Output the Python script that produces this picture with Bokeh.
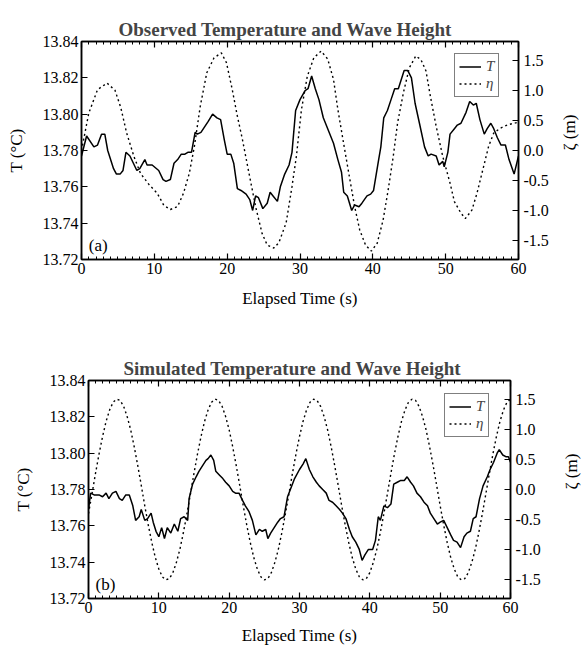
import math
from bokeh.plotting import figure
from bokeh.layouts import column, row
from bokeh.models import (Range1d, LinearAxis, FixedTicker, PrintfTickFormatter, CustomJSTickFormatter,
                          Legend, LegendItem, Label, Spacer)
from bokeh.embed import file_html
from bokeh.resources import INLINE

# ---------------- data ----------------
obs_T_time = [0.0, 0.7, 1.7, 2.2, 2.75, 3.2, 3.6, 4.4, 4.8, 5.3, 5.7, 6.1, 6.65, 7.6, 8.0, 8.7, 9.0, 9.7,
              10.6, 11.2, 11.6, 12.2, 12.7, 13.2, 13.7, 14.2, 14.6, 15.1, 15.6, 15.9, 16.4, 16.9, 17.4,
              18.0, 18.6, 19.1, 19.6, 20.0, 20.5, 20.9, 21.4, 21.9, 22.6, 23.1, 23.5, 23.9, 24.3, 24.9,
              25.5, 25.9, 26.3, 26.9, 27.3, 27.9, 28.5, 28.9, 29.4, 30.0, 30.7, 31.1, 31.6, 32.1, 32.6,
              33.2, 33.9, 34.6, 35.2, 35.7, 36.0, 36.5, 37.1, 37.5, 38.1, 38.5, 39.2, 39.7, 40.1, 40.8,
              41.1, 41.5, 42.0, 42.5, 43.0, 43.5, 44.3, 44.8, 45.3, 45.8, 46.4, 47.1, 47.6, 48.0, 48.7,
              49.1, 49.6, 49.8, 50.3, 50.6, 51.2, 51.6, 52.1, 52.8, 53.3, 53.8, 54.2, 54.7, 55.3, 55.7,
              56.2, 56.6, 57.1, 57.6, 58.2, 58.7, 59.4, 60.0]
obs_T = [13.777, 13.788, 13.782, 13.783, 13.789, 13.789, 13.780, 13.770, 13.767, 13.767, 13.769, 13.779,
         13.777, 13.769, 13.770, 13.775, 13.772, 13.772, 13.769, 13.764, 13.763, 13.764, 13.773, 13.775,
         13.778, 13.778, 13.779, 13.779, 13.790, 13.789, 13.790, 13.793, 13.796, 13.800, 13.798, 13.797,
         13.786, 13.778, 13.778, 13.773, 13.759, 13.758, 13.756, 13.753, 13.747, 13.755, 13.754, 13.748,
         13.751, 13.757, 13.755, 13.752, 13.760, 13.767, 13.772, 13.779, 13.802, 13.808, 13.813, 13.814,
         13.821, 13.814, 13.808, 13.798, 13.791, 13.784, 13.775, 13.768, 13.757, 13.755, 13.747, 13.750,
         13.749, 13.751, 13.755, 13.756, 13.758, 13.775, 13.782, 13.798, 13.802, 13.808, 13.814, 13.814,
         13.824, 13.824, 13.820, 13.806, 13.795, 13.782, 13.777, 13.778, 13.777, 13.772, 13.774, 13.771,
         13.779, 13.789, 13.792, 13.794, 13.795, 13.801, 13.807, 13.805, 13.806, 13.797, 13.789, 13.792,
         13.795, 13.792, 13.787, 13.783, 13.783, 13.775, 13.767, 13.777]

obs_eta_time = [0.0, 1.0, 2.2, 3.5, 4.6, 5.4, 6.2, 7.2, 8.1, 9.3, 10.4, 11.3, 12.2, 13.2, 14.0, 14.8, 15.5,
                16.3, 17.2, 18.2, 19.2, 19.9, 20.7, 21.4, 22.1, 23.0, 23.9, 24.8, 25.5, 26.4, 27.1, 28.1,
                28.9, 29.5, 30.2, 31.0, 31.9, 32.9, 33.8, 34.6, 35.2, 35.9, 36.7, 37.5, 38.2, 39.0, 39.8,
                40.6, 41.4, 42.1, 42.8, 43.4, 44.2, 45.0, 45.9, 46.6, 47.3, 47.9, 48.7, 49.6, 50.6, 51.2,
                52.1, 52.7, 53.6, 54.3, 55.1, 55.9, 56.6, 57.5, 58.6, 60.0]
obs_eta = [0.00, 0.62, 1.01, 1.12, 1.00, 0.71, 0.29, -0.10, -0.38, -0.57, -0.71, -0.91, -0.98, -0.93,
           -0.71, -0.38, 0.07, 0.73, 1.29, 1.54, 1.62, 1.46, 1.01, 0.57, 0.18, -0.38, -0.93, -1.38, -1.57,
           -1.62, -1.53, -1.20, -0.60, -0.10, 0.68, 1.23, 1.54, 1.65, 1.52, 1.18, 0.68, 0.18, -0.38, -0.93,
           -1.32, -1.57, -1.67, -1.54, -1.16, -0.66, -0.10, 0.46, 0.96, 1.37, 1.57, 1.51, 1.32, 0.90, 0.40,
           -0.10, -0.54, -0.85, -1.04, -1.13, -0.99, -0.71, -0.32, 0.07, 0.29, 0.37, 0.43, 0.47]

sim_T_time = [0.0, 0.3, 0.8, 1.5, 2.0, 2.5, 2.9, 3.4, 3.9, 4.4, 4.8, 5.3, 5.8, 6.3, 6.7, 7.2, 7.5, 8.0,
              8.4, 8.9, 9.2, 9.6, 10.0, 10.4, 10.8, 11.2, 11.7, 12.2, 12.7, 13.1, 13.6, 14.1, 14.3, 14.8,
              15.3, 15.7, 16.2, 16.7, 17.0, 17.4, 17.8, 18.1, 18.6, 19.1, 19.5, 20.0, 20.5, 20.9, 21.4,
              21.9, 22.3, 22.8, 23.3, 23.8, 24.3, 24.7, 25.2, 25.5, 25.9, 26.4, 26.9, 27.3, 27.8, 28.3,
              28.7, 29.3, 30.0, 30.5, 30.9, 31.4, 31.9, 32.4, 32.8, 33.3, 33.8, 34.2, 34.7, 35.2, 35.7,
              36.1, 36.6, 37.1, 37.5, 38.0, 38.5, 38.9, 39.3, 39.8, 40.4, 40.8, 41.2, 41.5, 42.0, 42.5,
              43.0, 43.4, 43.9, 44.4, 44.9, 45.3, 45.8, 46.2, 46.7, 47.2, 47.7, 48.2, 48.6, 49.1, 49.6,
              50.0, 50.5, 51.0, 51.5, 51.9, 52.4, 52.9, 53.4, 53.8, 54.3, 54.7, 55.1, 55.6, 56.1, 56.7,
              57.1, 57.6, 58.1, 58.4, 58.9, 59.4, 59.7, 60.0]
sim_T = [13.769, 13.778, 13.777, 13.777, 13.776, 13.778, 13.775, 13.778, 13.779, 13.775, 13.774, 13.777,
         13.777, 13.771, 13.763, 13.765, 13.769, 13.763, 13.764, 13.767, 13.762, 13.757, 13.754, 13.759,
         13.753, 13.759, 13.756, 13.761, 13.757, 13.764, 13.765, 13.763, 13.775, 13.783, 13.787, 13.790,
         13.793, 13.796, 13.797, 13.799, 13.796, 13.790, 13.788, 13.786, 13.784, 13.782, 13.779, 13.778,
         13.778, 13.774, 13.771, 13.768, 13.763, 13.755, 13.758, 13.757, 13.758, 13.753, 13.756, 13.759,
         13.762, 13.764, 13.765, 13.776, 13.780, 13.786, 13.791, 13.794, 13.797, 13.791, 13.787, 13.784,
         13.782, 13.780, 13.778, 13.774, 13.773, 13.771, 13.769, 13.767, 13.764, 13.758, 13.754, 13.751,
         13.747, 13.741, 13.744, 13.747, 13.747, 13.752, 13.765, 13.763, 13.771, 13.770, 13.772, 13.783,
         13.784, 13.785, 13.785, 13.787, 13.784, 13.782, 13.778, 13.776, 13.773, 13.771, 13.767, 13.764,
         13.761, 13.762, 13.763, 13.759, 13.755, 13.752, 13.751, 13.748, 13.754, 13.756, 13.757, 13.764,
         13.765, 13.775, 13.782, 13.787, 13.791, 13.795, 13.800, 13.802, 13.799, 13.798, 13.798, 13.795]

sim_eta_time = [i * 0.5 for i in range(121)]
sim_eta = [-0.40, -0.07, 0.27, 0.59, 0.88, 1.13, 1.32, 1.45, 1.50, 1.48, 1.38, 1.21, 0.99, 0.71,
           0.40, 0.07, -0.27, -0.59, -0.88, -1.13, -1.32, -1.45, -1.50, -1.48, -1.38, -1.21, -0.99, -0.71,
           -0.40, -0.07, 0.27, 0.59, 0.88, 1.13, 1.32, 1.45, 1.50, 1.48, 1.38, 1.21, 0.99, 0.71,
           0.40, 0.07, -0.27, -0.59, -0.88, -1.13, -1.32, -1.45, -1.50, -1.48, -1.38, -1.21, -0.99, -0.71,
           -0.40, -0.07, 0.27, 0.59, 0.88, 1.13, 1.32, 1.45, 1.50, 1.48, 1.38, 1.21, 0.99, 0.71,
           0.40, 0.07, -0.27, -0.59, -0.88, -1.13, -1.32, -1.45, -1.50, -1.48, -1.38, -1.21, -0.99, -0.71,
           -0.40, -0.07, 0.27, 0.59, 0.88, 1.13, 1.32, 1.45, 1.50, 1.48, 1.38, 1.21, 0.99, 0.71,
           0.40, 0.07, -0.27, -0.59, -0.88, -1.13, -1.32, -1.45, -1.50, -1.48, -1.38, -1.21, -0.99, -0.71,
           -0.40, -0.07, 0.27, 0.59, 0.88, 1.13, 1.32, 1.45, 1.50]

x_ticks = [0, 10, 20, 30, 40, 50, 60]
x_minor = list(range(0, 61))
T_ticks = [13.72, 13.74, 13.76, 13.78, 13.80, 13.82, 13.84]
eta_ticks = [-1.5, -1.0, -0.5, 0.0, 0.5, 1.0, 1.5]

titles = ["Observed Temperature and Wave Height", "Simulated Temperature and Wave Height"]
panel_tags = ["(a)", "(b)"]

SERIF = "Liberation Serif"


def style_axis(ax, ticker, fmt, minor=False, labels=True, label=""):
    ax.ticker = ticker
    ax.formatter = fmt
    ax.axis_line_color = "black"
    ax.axis_line_width = 1.5
    ax.major_tick_line_color = "black"
    ax.major_tick_line_width = 1.2
    ax.major_tick_in = 6
    ax.major_tick_out = 0
    if minor:
        ax.minor_tick_line_color = "black"
        ax.minor_tick_line_width = 1
        ax.minor_tick_in = 3
        ax.minor_tick_out = 0
    else:
        ax.minor_tick_line_color = None
    ax.major_label_text_font = SERIF
    ax.major_label_text_color = "black"
    ax.major_label_text_font_size = "16px"
    if not labels:
        ax.major_label_standoff = 0
    if label:
        ax.axis_label = label
    ax.axis_label_text_font = SERIF
    ax.axis_label_text_font_style = "normal"
    ax.axis_label_text_font_size = "17px"
    ax.axis_label_text_color = "black"


def make_panel(idx, T_time, T_vals, eta_time, eta_vals, frame_w, border_l, border_t, border_b,
               eta_label, legend_loc, title_offset, xlabel_standoff, rlabel_standoff):
    p = figure(frame_width=frame_w, frame_height=218,
               x_range=Range1d(0, 60), y_range=Range1d(13.72, 13.84),
               output_backend="svg", toolbar_location=None,
               min_border_left=border_l, min_border_top=border_t,
               min_border_bottom=border_b, min_border_right=4,
               title=titles[idx])
    p.extra_y_ranges = {"eta": Range1d(-1.81, 1.81)}
    p.background_fill_color = "white"
    p.border_fill_color = "white"
    p.outline_line_color = "black"
    p.outline_line_width = 1.5
    p.xgrid.visible = False
    p.ygrid.visible = False

    p.title.text_font = SERIF
    p.title.text_font_style = "bold"
    p.title.text_font_size = "19px"
    p.title.align = "left"
    p.title.offset = title_offset
    p.title.standoff = 4

    xt = FixedTicker(ticks=x_ticks, minor_ticks=x_minor)
    style_axis(p.xaxis[0], xt, PrintfTickFormatter(format="%d"), minor=True,
               label="Elapsed Time (s)")
    p.xaxis[0].major_label_standoff = 3
    p.xaxis[0].axis_label_standoff = xlabel_standoff
    style_axis(p.yaxis[0], FixedTicker(ticks=T_ticks), PrintfTickFormatter(format="%.2f"),
               label="T (°C)")
    p.yaxis[0].major_label_standoff = 3
    p.yaxis[0].axis_label_standoff = 14

    top = LinearAxis()
    style_axis(top, FixedTicker(ticks=x_ticks, minor_ticks=x_minor),
               CustomJSTickFormatter(code="return ''"), minor=True, labels=False)
    p.add_layout(top, "above")

    right = LinearAxis(y_range_name="eta")
    style_axis(right, FixedTicker(ticks=eta_ticks), PrintfTickFormatter(format="%.1f"),
               label=eta_label)
    right.major_label_standoff = 5
    right.axis_label_standoff = rlabel_standoff
    right.axis_label_orientation = math.pi / 2
    p.add_layout(right, "right")

    r1 = p.line(T_time, T_vals, line_color="black", line_width=1.5)
    r2 = p.line(eta_time, eta_vals, line_color="black", line_width=1.4, line_dash="2 3",
                y_range_name="eta")

    leg = Legend(items=[LegendItem(label="T", renderers=[r1]),
                        LegendItem(label="η", renderers=[r2])],
                 location=legend_loc, margin=0, padding=4, spacing=0,
                 glyph_width=22, glyph_height=15, label_height=15, label_width=8,
                 label_standoff=5,
                 label_text_font=SERIF, label_text_font_style="italic",
                 label_text_font_size="15px",
                 border_line_color="black", border_line_width=1.3,
                 background_fill_color="white", background_fill_alpha=1.0)
    p.add_layout(leg)

    p.add_layout(Label(x=1.0, y=13.7225, text=panel_tags[idx], text_font=SERIF,
                       text_font_size="17px", text_baseline="bottom", text_color="black"))
    return p


p1 = make_panel(0, obs_T_time, obs_T, obs_eta_time, obs_eta, 437, 81, 41, 60, "ζ (m)",
                (373, 162), 37, 12, 18)
p2 = make_panel(1, sim_T_time, sim_T, sim_eta_time, sim_eta, 422, 81, 61, 39, "ζ (m)",
                (356, 161), 35, 10, 28)

layout = column(p1, row(Spacer(width=7), p2, spacing=0), spacing=0)
open("out.html", "w").write(file_html(layout, INLINE))
